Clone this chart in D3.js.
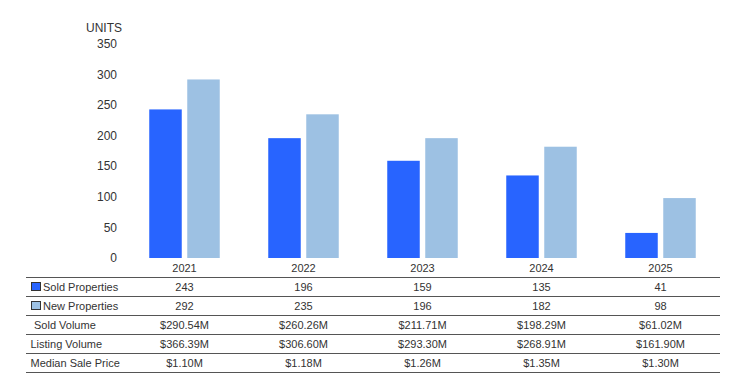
<!DOCTYPE html>
<html>
<head>
<meta charset="utf-8">
<script src="https://cdn.jsdelivr.net/npm/d3@7"></script>
<style>
  body { margin: 0; background: #fff; }
  svg { font-family: "Liberation Sans", Arial, sans-serif; }
</style>
</head>
<body>
<div id="chart"></div>
<script>
const years = ['2021', '2022', '2023', '2024', '2025'];
const soldProperties = [243, 196, 159, 135, 41];
const newProperties = [292, 235, 196, 182, 98];
const soldVolume = ['$290.54M', '$260.26M', '$211.71M', '$198.29M', '$61.02M'];
const listingVolume = ['$366.39M', '$306.60M', '$293.30M', '$268.91M', '$161.90M'];
const medianSalePrice = ['$1.10M', '$1.18M', '$1.26M', '$1.35M', '$1.30M'];
const yTicks = [0, 50, 100, 150, 200, 250, 300, 350];

const soldColor = '#2864ff';
const newColor = '#9dc1e3';
const textColor = '#333';

const width = 743, height = 389;

const svg = d3.select('#chart')
	.append('svg')
	.attr('width', width)
	.attr('height', height);

const x = d3.scaleBand()
	.domain(years)
	.range([125, 720])
	.paddingInner(0)
	.paddingOuter(0);

const y = d3.scaleLinear()
	.domain([0, 350])
	.range([258, 44]);

// y axis labels (no line)
svg.append('g')
	.selectAll('text')
	.data(yTicks)
	.join('text')
	.attr('x', 117)
	.attr('y', d => y(d))
	.attr('dy', '0.35em')
	.attr('text-anchor', 'end')
	.attr('font-size', '12px')
	.attr('fill', textColor)
	.text(d => d);

svg.append('text')
	.attr('x', 122)
	.attr('y', 28)
	.attr('dy', '0.35em')
	.attr('text-anchor', 'end')
	.attr('font-size', '12px')
	.attr('fill', textColor)
	.text('UNITS');

const barW = 32.5, gap = 5.5;

const groups = svg.append('g')
	.selectAll('g')
	.data(years)
	.join('g')
	.attr('transform', d => `translate(${x(d) + x.bandwidth() / 2},0)`);

groups.append('rect')
	.attr('x', -barW - gap / 2)
	.attr('y', (d, i) => y(soldProperties[i]))
	.attr('width', barW)
	.attr('height', (d, i) => y(0) - y(soldProperties[i]))
	.attr('fill', soldColor);

groups.append('rect')
	.attr('x', gap / 2)
	.attr('y', (d, i) => y(newProperties[i]))
	.attr('width', barW)
	.attr('height', (d, i) => y(0) - y(newProperties[i]))
	.attr('fill', newColor);

// year labels
groups.append('text')
	.attr('y', 268)
	.attr('dy', '0.35em')
	.attr('text-anchor', 'middle')
	.attr('font-size', '11px')
	.attr('fill', textColor)
	.text(d => d);

// data table
const rows = [
	{ label: 'Sold Properties', values: soldProperties, swatch: soldColor, lx: 43 },
	{ label: 'New Properties', values: newProperties, swatch: newColor, lx: 43 },
	{ label: 'Sold Volume', values: soldVolume, lx: 34 },
	{ label: 'Listing Volume', values: listingVolume, lx: 30.5 },
	{ label: 'Median Sale Price', values: medianSalePrice, lx: 30.5 }
];

const rowTop = 277, rowH = 19;

svg.append('g')
	.selectAll('line')
	.data(d3.range(rows.length + 1))
	.join('line')
	.attr('x1', 26)
	.attr('x2', 720)
	.attr('y1', i => rowTop + i * rowH + 0.5)
	.attr('y2', i => rowTop + i * rowH + 0.5)
	.attr('stroke', '#555')
	.attr('stroke-width', 1);

const rowG = svg.append('g')
	.selectAll('g')
	.data(rows)
	.join('g')
	.attr('transform', (d, i) => `translate(0,${rowTop + i * rowH + rowH / 2 + 0.5})`);

rowG.filter(d => d.swatch)
	.append('rect')
	.attr('x', 31.5)
	.attr('y', -4.5)
	.attr('width', 9)
	.attr('height', 8)
	.attr('fill', d => d.swatch)
	.attr('stroke', '#333')
	.attr('stroke-width', 1);

rowG.append('text')
	.attr('x', d => d.lx)
	.attr('dy', '0.35em')
	.attr('font-size', '11px')
	.attr('fill', textColor)
	.text(d => d.label);

rowG.selectAll('text.val')
	.data(d => d.values.map((v, i) => ({ v, year: years[i] })))
	.join('text')
	.attr('class', 'val')
	.attr('x', d => x(d.year) + x.bandwidth() / 2)
	.attr('dy', '0.35em')
	.attr('text-anchor', 'middle')
	.attr('font-size', '11px')
	.attr('fill', textColor)
	.text(d => d.v);
</script>
</body>
</html>
